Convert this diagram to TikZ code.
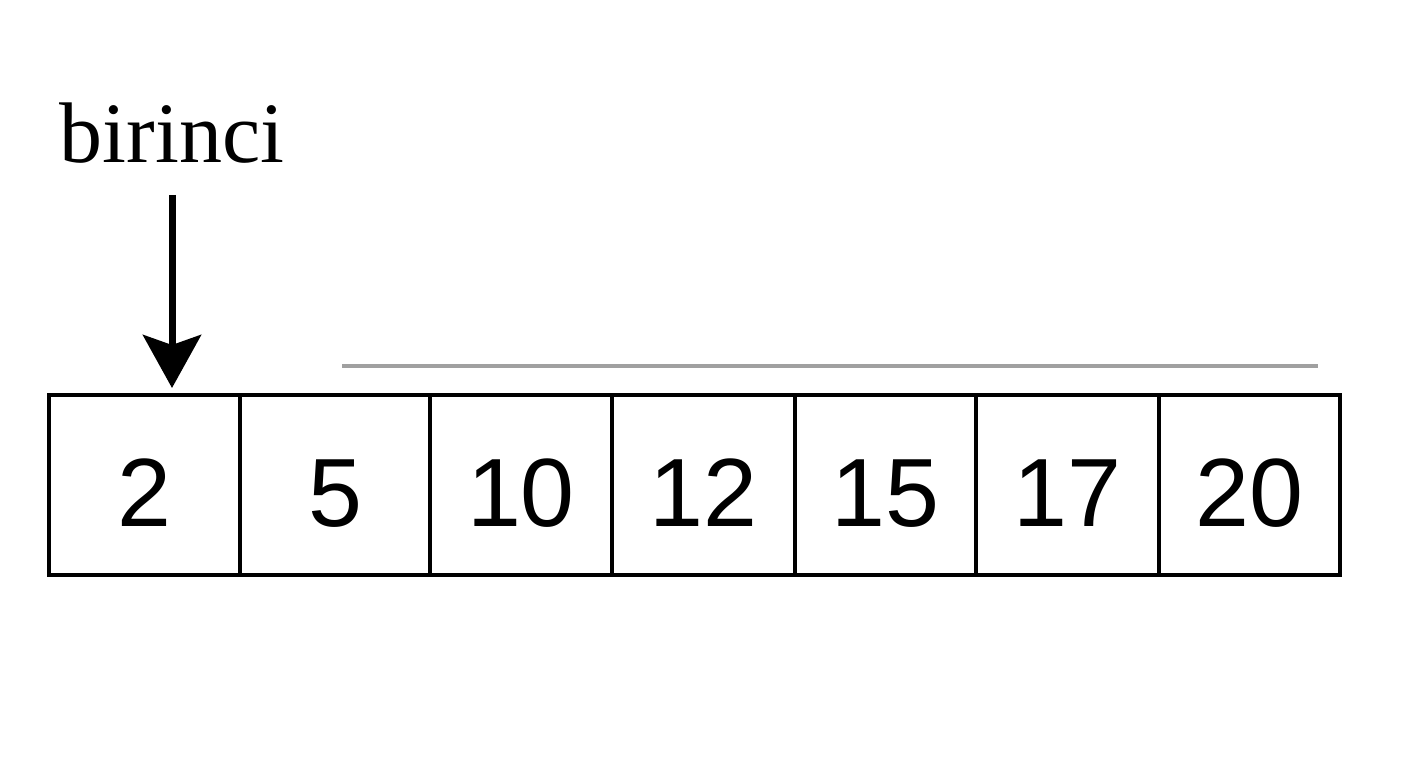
\documentclass[tikz,border=0pt]{standalone}
\usepackage{fontspec}
\setmainfont{Liberation Serif}
\newfontfamily\digitfont{Liberation Sans}
\usetikzlibrary{arrows.meta}
\definecolor{grayline}{HTML}{A0A0A0}
\tikzset{
  cell/.style={draw=black, line width=4pt, rectangle, inner sep=0pt, outer sep=0pt,
    minimum height=180pt, text height=84pt, text depth=0pt,
    font=\digitfont\fontsize{97pt}{97pt}\selectfont},
  pointer/.style={line width=7pt, -{Stealth[length=53pt,width=58pt,inset=10pt]}},
  lbl/.style={font=\fontsize{86pt}{86pt}\selectfont, inner sep=0pt, anchor=base},
  bar/.style={draw=grayline, line width=4pt}
}
\begin{document}
\begin{tikzpicture}[x=1pt,y=1pt]
\useasboundingbox (0,0) rectangle (1408,768);
\fill[white] (0,0) rectangle (1408,768);
% cells: boundaries 49,240,430,612,795,976,1159,1340 ; y center 283
\node[cell, minimum width=191pt] (c1) at (144.5,283) {2};
\node[cell, minimum width=190pt] (c2) at (335,283) {5};
\node[cell, minimum width=182pt] (c3) at (521,283) {10};
\node[cell, minimum width=183pt] (c4) at (703.5,283) {12};
\node[cell, minimum width=181pt] (c5) at (885.5,283) {15};
\node[cell, minimum width=183pt] (c6) at (1067.5,283) {17};
\node[cell, minimum width=181pt] (c7) at (1249.5,283) {20};
% label and pointer
\node[lbl] (first) at (172,605) {birinci};
\coordinate (atop) at (172,573);
\coordinate (atip) at (172,380);
\draw[pointer] (atop) -- (atip);
% gray bar
\coordinate (g1) at (342,402);
\coordinate (g2) at (1318,402);
\draw[bar] (g1) -- (g2);
\end{tikzpicture}
\end{document}
